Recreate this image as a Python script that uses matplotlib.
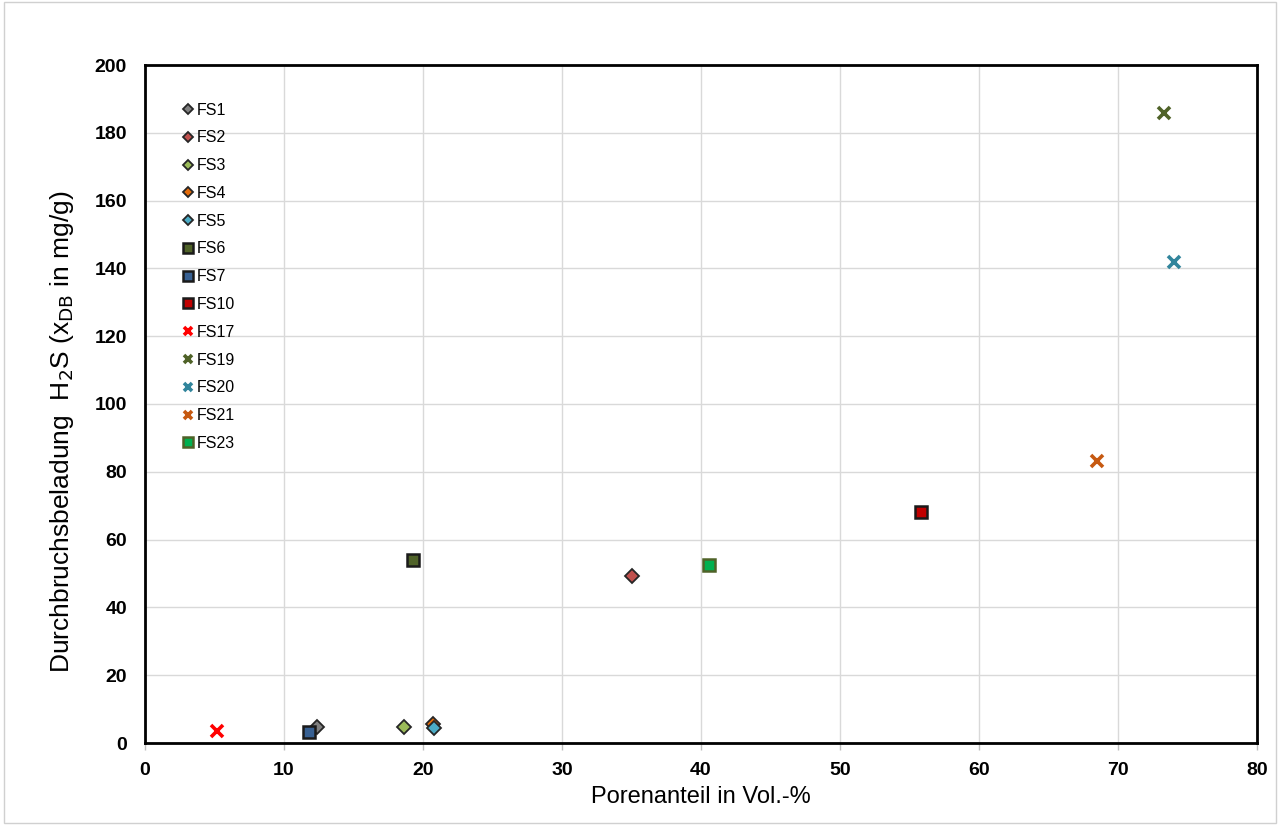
import matplotlib
matplotlib.use("Agg")
import matplotlib.pyplot as plt
from matplotlib.patches import Rectangle

plt.rcParams['font.family'] = ['Liberation Sans', 'DejaVu Sans']

labels = ["FS1", "FS2", "FS3", "FS4", "FS5", "FS6", "FS7", "FS10",
          "FS17", "FS19", "FS20", "FS21", "FS23"]
x_vals = [12.4, 35.0, 18.6, 20.7, 20.8, 19.3, 11.8, 55.8, 5.2, 73.3, 74.0, 68.5, 40.6]
y_vals = [4.7, 49.3, 4.7, 5.6, 4.4, 54.0, 3.2, 68.1, 3.5, 185.8, 141.9, 83.2, 52.5]
markers = ["D", "D", "D", "D", "D", "s", "s", "s", "x", "x", "x", "x", "s"]
face = ["#808080", "#C0504D", "#9BBB59", "#E46C0A", "#4BACC6", "#4F6228", "#376092",
        "#C00000", "#FF0000", "#4F6228", "#31859C", "#C65911", "#00B050"]
edge = ["#262626", "#262626", "#262626", "#262626", "#262626", "#1A1A1A", "#1A1A1A",
        "#1A1A1A", "#FF0000", "#4F6228", "#31859C", "#C65911", "#4F6228"]

fig = plt.figure(figsize=(12.8, 8.25), dpi=100)
fig.patches.append(Rectangle((0.003, 0.003), 0.994, 0.994, transform=fig.transFigure,
                             fill=False, edgecolor="#D0D0D0", linewidth=1))
ax = fig.add_axes([145/1280, 1-743/825, (1257-145)/1280, (743-65)/825])

for lab, x, y, m, fc, ec in zip(labels, x_vals, y_vals, markers, face, edge):
    if m == "D":
        ax.plot(x, y, linestyle="none", marker="D", markersize=6.8, markerfacecolor=fc,
                markeredgecolor=ec, markeredgewidth=1.3, label=lab, zorder=3)
    elif m == "s":
        ax.plot(x, y, linestyle="none", marker="s", markersize=9.3, markerfacecolor=fc,
                markeredgecolor=ec, markeredgewidth=1.8, label=lab, zorder=3)
    else:
        ax.plot(x, y, linestyle="none", marker="x", markersize=8, color=fc,
                markeredgewidth=2.6, label=lab, zorder=3)

ax.set_xlim(0, 80)
ax.set_ylim(0, 200)
ax.set_xticks(range(0, 81, 10))
ax.set_yticks(range(0, 201, 20))
ax.grid(True, color="#D9D9D9", linewidth=1)
ax.set_axisbelow(True)
for s in ax.spines.values():
    s.set_linewidth(2)
    s.set_color("black")
ax.tick_params(axis="x", direction="out", length=5, color="#BFBFBF", width=1, pad=9)
ax.tick_params(axis="y", length=0, pad=13)
for t in ax.get_xticklabels() + ax.get_yticklabels():
    t.set_fontweight("bold")
    t.set_fontsize(14)

ax.set_xlabel("Porenanteil in Vol.-%", fontsize=17, labelpad=5)
fig.text(62/1280, 1-432/825, "Durchbruchsbeladung  H$_2$S (x$_{\\mathrm{DB}}$ in mg/g)",
         fontsize=19, rotation=90, ha="center", va="center")

leg = ax.legend(loc="upper left", bbox_to_anchor=(0.029, 0.954), frameon=False,
                fontsize=11.5, markerscale=0.75, handlelength=0.6, handletextpad=0.2,
                labelspacing=0.80, borderaxespad=0)

fig.savefig("out.png", dpi=100)
